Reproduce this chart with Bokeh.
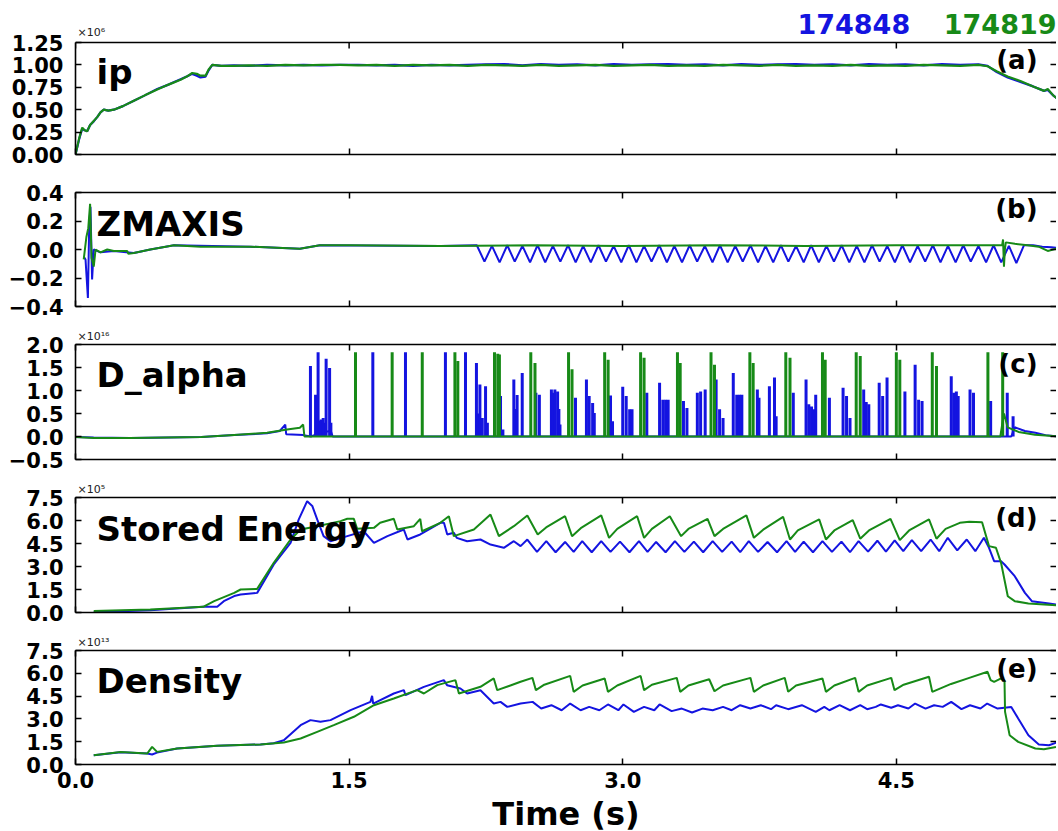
from bokeh.plotting import figure
from bokeh.layouts import column
from bokeh.models import (Range1d, LinearAxis, FixedTicker, CustomJSTickFormatter,
                          Label, Span, ColumnDataSource)
from bokeh.embed import file_html
from bokeh.resources import INLINE

# ---------------- data (time in s, values in the axis multiplier units) ----------------
SHOTS = ["174848", "174819"]
X_TICKS = [0.0, 1.5, 3.0, 4.5]

ip_t = [0.0, 0.02, 0.037, 0.05, 0.064, 0.08, 0.10, 0.12, 0.137, 0.155,
        0.18, 0.21, 0.26, 0.32, 0.38, 0.448, 0.51, 0.576, 0.61, 0.64,
        0.665, 0.685, 0.713, 0.73, 0.75, 0.80, 0.868, 0.95, 1.05, 1.15,
        1.25, 1.35, 1.45, 1.55, 1.65, 1.75, 1.85, 1.95, 2.05, 2.15,
        2.25, 2.35, 2.45, 2.55, 2.65, 2.75, 2.85, 2.95, 3.05, 3.15,
        3.25, 3.35, 3.45, 3.55, 3.65, 3.75, 3.85, 3.95, 4.05, 4.15,
        4.25, 4.35, 4.45, 4.55, 4.65, 4.75, 4.85, 4.95, 5.00, 5.05,
        5.11, 5.18, 5.25, 5.31, 5.33, 5.36, 5.39]
ip_174848 = [0.0, 0.17, 0.29, 0.27, 0.26, 0.33, 0.37, 0.42, 0.47, 0.50,
             0.49, 0.50, 0.54, 0.60, 0.66, 0.73, 0.78, 0.84, 0.87, 0.90,
             0.88, 0.86, 0.87, 0.94, 1.0, 0.99, 0.995, 0.99, 1.0, 0.995,
             1.0, 0.995, 1.0, 1.0, 0.995, 1.0, 0.99, 1.0, 0.995, 1.0,
             1.005, 1.01, 0.995, 1.01, 1.0, 1.005, 0.995, 1.01, 1.0, 1.005,
             1.01, 1.0, 1.005, 0.995, 1.01, 1.0, 1.005, 1.01, 1.0, 1.005,
             0.995, 1.01, 1.0, 1.005, 0.995, 1.01, 1.0, 1.005, 0.99, 0.92,
             0.86, 0.81, 0.76, 0.71, 0.72, 0.66, 0.61]
ip_174819 = [0.0, 0.18, 0.30, 0.27, 0.26, 0.33, 0.375, 0.42, 0.47, 0.50,
             0.49, 0.50, 0.54, 0.60, 0.66, 0.725, 0.78, 0.835, 0.87, 0.91,
             0.90, 0.88, 0.88, 0.95, 1.0, 0.99, 0.99, 0.995, 0.99, 1.0,
             0.995, 1.0, 1.0, 0.995, 1.0, 0.99, 1.0, 0.995, 1.0, 0.99,
             1.0, 0.995, 0.99, 1.0, 0.99, 0.995, 1.0, 0.99, 0.995, 1.0,
             0.99, 0.995, 0.99, 1.0, 0.995, 0.99, 1.0, 0.99, 0.995, 0.99,
             1.0, 0.99, 0.995, 0.99, 1.0, 0.995, 0.99, 1.0, 0.985, 0.93,
             0.87, 0.82, 0.76, 0.71, 0.73, 0.66, 0.61]

zmaxis_174819 = [(0.045, -0.07), (0.06, 0.09), (0.07, 0.15), (0.08, 0.32), (0.088, -0.06),
                 (0.10, -0.12), (0.11, 0.0), (0.137, -0.02), (0.174, 0.0), (0.21, -0.01),
                 (0.283, -0.01), (0.29, -0.03), (0.32, -0.025), (0.41, 0.0), (0.54, 0.03),
                 (0.685, 0.02), (0.96, 0.02), (1.23, 0.005), (1.34, 0.03), (1.5, 0.03),
                 (2.0, 0.025), (2.5, 0.03), (3.0, 0.025), (3.5, 0.03), (4.0, 0.025),
                 (4.5, 0.03), (5.0, 0.03), (5.08, 0.03), (5.085, 0.07), (5.09, -0.12),
                 (5.095, 0.0), (5.10, 0.05), (5.15, 0.04), (5.22, 0.03), (5.28, 0.02),
                 (5.33, -0.01), (5.36, 0.0), (5.39, 0.01)]
zmaxis_174848 = [(0.045, -0.05), (0.055, -0.07), (0.068, -0.34), (0.075, 0.16), (0.082, 0.30),
                 (0.091, -0.21), (0.10, 0.0), (0.137, -0.02), (0.21, -0.01), (0.32, -0.025),
                 (0.41, 0.0), (0.54, 0.03), (0.96, 0.02), (1.23, 0.005), (1.34, 0.03),
                 (2.0, 0.025),
                 (2.200, 0.03), (2.242, -0.085), (2.283, 0.025), (2.325, -0.09), (2.367, 0.03),
                 (2.408, -0.085), (2.450, 0.025), (2.492, -0.09), (2.533, 0.03), (2.575, -0.09),
                 (2.617, 0.025), (2.658, -0.085), (2.700, 0.03), (2.742, -0.09), (2.783, 0.025),
                 (2.825, -0.09), (2.867, 0.03), (2.908, -0.085), (2.950, 0.025), (2.992, -0.09),
                 (3.033, 0.03), (3.075, -0.09), (3.117, 0.025), (3.158, -0.085), (3.200, 0.03),
                 (3.242, -0.09), (3.283, 0.025), (3.325, -0.09), (3.367, 0.03), (3.408, -0.085),
                 (3.450, 0.025), (3.492, -0.09), (3.533, 0.03), (3.575, -0.09), (3.617, 0.025),
                 (3.658, -0.085), (3.700, 0.03), (3.742, -0.09), (3.783, 0.025), (3.825, -0.09),
                 (3.867, 0.03), (3.908, -0.085), (3.950, 0.025), (3.992, -0.09), (4.033, 0.03),
                 (4.075, -0.09), (4.117, 0.025), (4.158, -0.085), (4.200, 0.03), (4.242, -0.09),
                 (4.283, 0.025), (4.325, -0.09), (4.367, 0.03), (4.408, -0.085), (4.450, 0.025),
                 (4.492, -0.09), (4.533, 0.03), (4.575, -0.09), (4.617, 0.025), (4.658, -0.085),
                 (4.700, 0.03), (4.742, -0.09), (4.783, 0.025), (4.825, -0.09), (4.867, 0.03),
                 (4.908, -0.085), (4.950, 0.025), (4.992, -0.09), (5.033, 0.03), (5.075, -0.09),
                 (5.117, 0.025), (5.158, -0.095), (5.200, 0.03), (5.25, 0.03), (5.30, 0.02),
                 (5.35, 0.015), (5.39, 0.01)]

dalpha_base_174848 = [(0.0, -0.01), (0.1, -0.02), (0.3, -0.03), (0.5, -0.02), (0.69, -0.01),
                      (0.87, 0.03), (1.05, 0.07), (1.12, 0.12), (1.15, 0.26), (1.155, 0.05),
                      (1.25, 0.03), (1.29, 0.0), (1.36, 0.1), (1.40, 0.12), (1.41, 0.0),
                      (5.13, 0.0), (5.149, 0.2), (5.205, 0.12), (5.262, 0.08), (5.318, 0.03),
                      (5.39, 0.0)]
dalpha_base_174819 = [(0.0, -0.01), (0.1, -0.03), (0.3, -0.03), (0.5, -0.02), (0.69, -0.01),
                      (0.87, 0.035), (1.05, 0.08), (1.16, 0.15), (1.23, 0.19), (1.248, 0.26),
                      (1.255, 0.0), (5.07, 0.0), (5.09, 0.5), (5.11, 0.2), (5.17, 0.1),
                      (5.26, 0.04), (5.39, 0.0)]
dalpha_peaks_174848 = [(1.288, 1.53), (1.316, 0.91), (1.330, 1.83), (1.340, 0.35), (1.347, 0.37),
                       (1.358, 0.40), (1.365, 0.30), (1.374, 1.69), (1.393, 1.49), (1.400, 0.3),
                       (1.630, 1.83), (1.809, 1.83), (2.028, 1.83), (2.138, 1.83), (2.198, 1.60),
                       (2.207, 0.5), (2.217, 1.13), (2.230, 0.4), (2.248, 1.09), (2.258, 0.3),
                       (2.330, 0.88), (2.343, 0.15), (2.403, 1.24), (2.412, 0.6), (2.421, 0.9),
                       (2.449, 1.38), (2.524, 0.95), (2.543, 0.91), (2.609, 1.02), (2.618, 0.95),
                       (2.628, 1.02), (2.643, 0.98), (2.650, 0.6), (2.656, 0.26), (2.741, 0.84),
                       (2.801, 1.24), (2.816, 0.88), (2.835, 0.73), (2.844, 0.51), (2.933, 0.89),
                       (2.944, 0.33), (3.000, 1.08), (3.019, 0.88), (3.038, 0.59), (3.051, 0.59),
                       (3.132, 0.95), (3.202, 1.17), (3.220, 0.80), (3.235, 0.80), (3.249, 0.80),
                       (3.333, 0.77), (3.352, 0.62), (3.409, 0.95), (3.427, 0.98), (3.452, 1.02),
                       (3.512, 1.24), (3.531, 0.59), (3.550, 0.40), (3.606, 1.38), (3.625, 0.91),
                       (3.640, 0.91), (3.653, 0.91), (3.738, 1.02), (3.747, 0.84), (3.804, 1.09),
                       (3.832, 1.28), (3.841, 0.44), (3.935, 0.95), (4.005, 1.24), (4.020, 0.70),
                       (4.035, 0.65), (4.048, 0.59), (4.058, 0.91), (4.133, 0.84), (4.208, 1.06),
                       (4.227, 0.88), (4.246, 0.40), (4.321, 1.02), (4.335, 0.75), (4.349, 0.70),
                       (4.406, 1.17), (4.425, 0.88), (4.449, 1.28), (4.547, 0.98), (4.603, 1.56),
                       (4.622, 0.80), (4.641, 0.77), (4.801, 1.31), (4.815, 0.95), (4.829, 0.98),
                       (4.839, 0.88), (4.904, 1.02), (4.923, 0.95), (5.017, 0.77), (5.108, 0.95),
                       (5.140, 0.44)]
dalpha_peaks_174819 = [(1.535, 1.83), (1.736, 1.83), (1.901, 1.83), (2.080, 1.83), (2.096, 1.64),
                       (2.297, 1.83), (2.315, 1.80), (2.324, 1.78), (2.496, 1.83), (2.519, 1.60),
                       (2.703, 1.83), (2.722, 1.46), (2.901, 1.83), (2.920, 1.67), (3.098, 1.83),
                       (3.117, 1.71), (3.300, 1.83), (3.315, 1.60), (3.484, 1.83), (3.503, 1.56),
                       (3.697, 1.83), (3.715, 1.60), (3.894, 1.83), (3.917, 1.71), (4.095, 1.83),
                       (4.110, 1.67), (4.280, 1.83), (4.302, 1.75), (4.500, 1.83), (4.519, 1.67),
                       (4.697, 1.83), (4.720, 1.53), (5.002, 1.83), (5.083, 1.83)]

wmhd_174848 = [(0.10, 0.02), (0.41, 0.15), (0.70, 0.37), (0.777, 0.37), (0.813, 0.74),
               (0.87, 1.07), (0.905, 1.17), (0.996, 1.28), (1.087, 3.13), (1.179, 4.54),
               (1.224, 6.07), (1.270, 7.26), (1.298, 6.95), (1.325, 6.07), (1.36, 4.98),
               (1.398, 4.65), (1.49, 4.98), (1.58, 5.30), (1.636, 4.54), (1.71, 4.98),
               (1.80, 5.41), (1.82, 4.76), (1.89, 5.09), (2.0, 5.85), (2.02, 5.85),
               (2.038, 5.09), (2.074, 5.20), (2.09, 4.87), (2.147, 4.65), (2.22, 4.76),
               (2.275, 4.43), (2.348, 4.22), (2.403, 4.65), (2.44, 4.33), (2.477, 4.76),
               (2.53, 3.95), (2.581, 4.65), (2.632, 3.93), (2.684, 4.60), (2.731, 3.95),
               (2.778, 4.65), (2.830, 3.93), (2.882, 4.65), (2.933, 3.95), (2.985, 4.62),
               (3.037, 3.93), (3.089, 4.65), (3.136, 3.95), (3.183, 4.60), (3.235, 3.93),
               (3.286, 4.65), (3.338, 3.95), (3.390, 4.62), (3.441, 3.93), (3.493, 4.65),
               (3.545, 3.95), (3.597, 4.62), (3.644, 3.93), (3.691, 4.65), (3.742, 3.95),
               (3.794, 4.60), (3.846, 3.93), (3.898, 4.65), (3.945, 3.95), (3.992, 4.62),
               (4.043, 3.93), (4.095, 4.65), (4.147, 3.95), (4.199, 4.62), (4.246, 3.93),
               (4.293, 4.65), (4.345, 3.97), (4.396, 4.68), (4.443, 3.97), (4.491, 4.70),
               (4.538, 4.0), (4.585, 4.72), (4.636, 4.0), (4.688, 4.76), (4.735, 4.0),
               (4.782, 4.87), (4.834, 4.05), (4.886, 4.76), (4.933, 4.0), (4.980, 4.87),
               (5.008, 4.22), (5.036, 3.35), (5.074, 3.35), (5.093, 3.13), (5.149, 2.37),
               (5.205, 1.28), (5.243, 0.74), (5.337, 0.59), (5.39, 0.50)]
wmhd_174819 = [(0.10, 0.09), (0.41, 0.20), (0.70, 0.37), (0.76, 0.74), (0.87, 1.28),
               (0.905, 1.50), (0.996, 1.54), (1.087, 3.24), (1.179, 4.76), (1.234, 5.41),
               (1.325, 5.63), (1.453, 5.96), (1.49, 6.11), (1.526, 6.11), (1.544, 5.46),
               (1.636, 5.52), (1.67, 5.85), (1.745, 6.11), (1.764, 5.41), (1.855, 5.63),
               (1.89, 6.11), (1.90, 5.30), (2.0, 5.85), (2.047, 6.28), (2.074, 4.98),
               (2.184, 5.41), (2.275, 6.39), (2.321, 4.98), (2.403, 5.63), (2.477, 6.33),
               (2.534, 5.09), (2.58, 5.55), (2.684, 6.28), (2.722, 4.98), (2.77, 5.5),
               (2.882, 6.33), (2.925, 4.87), (2.97, 5.45), (3.079, 6.28), (3.117, 4.87),
               (3.16, 5.45), (3.258, 6.28), (3.320, 4.98), (3.36, 5.45), (3.465, 6.11),
               (3.503, 4.98), (3.55, 5.45), (3.678, 6.33), (3.719, 4.87), (3.77, 5.4),
               (3.879, 6.24), (3.917, 4.76), (3.96, 5.35), (4.077, 6.07), (4.114, 4.76),
               (4.16, 5.35), (4.261, 6.02), (4.302, 4.81), (4.35, 5.35), (4.468, 6.11),
               (4.519, 4.72), (4.57, 5.35), (4.679, 6.07), (4.720, 4.81), (4.77, 5.45),
               (4.848, 5.85), (4.90, 5.92), (4.970, 5.89), (5.008, 4.33), (5.046, 4.22),
               (5.074, 3.24), (5.111, 1.06), (5.149, 0.74), (5.224, 0.59), (5.39, 0.46)]

dens_174848 = [(0.10, 0.61), (0.247, 0.80), (0.393, 0.72), (0.42, 0.66), (0.447, 0.78),
               (0.557, 1.05), (0.777, 1.23), (1.014, 1.32), (1.087, 1.40), (1.142, 1.60),
               (1.234, 2.59), (1.288, 2.92), (1.343, 2.81), (1.398, 2.92), (1.508, 3.58),
               (1.617, 4.12), (1.626, 4.52), (1.632, 4.01), (1.745, 4.67), (1.80, 4.89),
               (1.809, 4.56), (1.91, 5.11), (2.019, 5.55), (2.037, 5.22), (2.11, 5.0),
               (2.147, 4.67), (2.22, 4.89), (2.293, 4.01), (2.33, 4.12), (2.367, 3.79),
               (2.44, 4.01), (2.506, 4.12), (2.553, 3.68), (2.609, 3.90), (2.665, 3.57),
               (2.712, 4.01), (2.769, 3.57), (2.816, 3.79), (2.872, 3.57), (2.919, 3.95),
               (2.976, 3.57), (3.004, 3.95), (3.061, 3.46), (3.117, 3.79), (3.173, 3.57),
               (3.202, 3.95), (3.268, 3.51), (3.324, 3.68), (3.380, 3.42), (3.437, 3.68),
               (3.493, 3.57), (3.550, 3.79), (3.597, 3.57), (3.644, 3.90), (3.700, 3.68),
               (3.757, 3.90), (3.813, 3.64), (3.841, 3.90), (3.907, 3.64), (3.982, 3.90),
               (4.058, 3.46), (4.105, 3.79), (4.133, 3.57), (4.189, 3.90), (4.246, 3.57),
               (4.302, 3.90), (4.340, 3.64), (4.387, 3.79), (4.415, 3.95), (4.472, 3.73),
               (4.509, 3.90), (4.566, 3.68), (4.603, 4.01), (4.660, 3.68), (4.707, 3.90),
               (4.754, 3.79), (4.801, 4.12), (4.857, 3.64), (4.904, 3.90), (4.961, 3.68),
               (4.998, 4.01), (5.055, 3.68), (5.130, 3.79), (5.168, 3.03), (5.224, 1.93),
               (5.281, 1.32), (5.337, 1.27), (5.39, 1.49)]
dens_174819 = [(0.10, 0.61), (0.247, 0.83), (0.393, 0.72), (0.42, 1.16), (0.447, 0.83),
               (0.557, 1.05), (0.777, 1.23), (1.014, 1.32), (1.142, 1.45), (1.234, 1.71),
               (1.325, 2.15), (1.416, 2.59), (1.526, 3.14), (1.636, 3.90), (1.745, 4.34),
               (1.873, 4.89), (1.91, 4.67), (1.983, 5.22), (2.083, 5.55), (2.102, 4.67),
               (2.22, 5.11), (2.293, 5.66), (2.312, 4.89), (2.44, 5.44), (2.505, 5.70),
               (2.524, 4.89), (2.57, 5.25), (2.712, 5.83), (2.731, 4.78), (2.78, 5.2),
               (2.901, 5.66), (2.919, 4.78), (2.97, 5.2), (3.098, 5.83), (3.117, 4.89),
               (3.16, 5.25), (3.296, 5.70), (3.315, 4.78), (3.36, 5.2), (3.474, 5.61),
               (3.503, 4.82), (3.55, 5.2), (3.700, 5.70), (3.719, 4.78), (3.77, 5.2),
               (3.888, 5.70), (3.907, 4.78), (3.95, 5.2), (4.095, 5.66), (4.114, 4.78),
               (4.16, 5.2), (4.274, 5.70), (4.293, 4.78), (4.34, 5.2), (4.472, 5.70),
               (4.490, 4.89), (4.54, 5.25), (4.679, 5.77), (4.697, 4.78), (4.80, 5.3),
               (4.90, 5.7), (5.0, 6.10), (5.017, 5.55), (5.036, 5.44), (5.074, 5.66),
               (5.093, 5.5), (5.096, 3.46), (5.121, 1.93), (5.168, 1.49), (5.262, 1.05),
               (5.309, 1.01), (5.375, 1.16)]

# ---------------- styling ----------------
BLUE = "#1414e0"
GREEN = "#178a17"
FONT = "DejaVu Sans"
X_END = 5.378
FRAME_W = 981
LEFT = 75
TICK = 6


def xy(pairs):
    return [a for a, _ in pairs], [b for _, b in pairs]


def fmt(decimals):
    return CustomJSTickFormatter(
        code="return tick.toFixed(%d).replace('-', '\u2212');" % decimals)


def style_axis(ax, labels):
    ax.major_tick_in = TICK
    ax.major_tick_out = 0
    ax.major_tick_line_width = 1.5
    ax.major_tick_line_color = "black"
    ax.minor_tick_line_color = None
    ax.axis_line_width = 1.6
    ax.axis_line_color = "black"
    if labels:
        ax.major_label_text_font = FONT
        ax.major_label_text_font_style = "bold"
        ax.major_label_text_font_size = "21px"
        ax.major_label_text_color = "black"
    else:
        ax.major_label_text_font_size = "1px"
        ax.major_label_text_color = None
        ax.major_label_standoff = 0


def panel(ylo, yhi, yticks, dec, frame_h, top, bottom, last=False, mult=None, header=0):
    ytop = yhi + (yhi - ylo) * header / frame_h
    p = figure(frame_width=FRAME_W, frame_height=frame_h + header,
               x_range=Range1d(0, X_END), y_range=Range1d(ylo, ytop),
               output_backend="svg", toolbar_location=None,
               min_border_left=LEFT, min_border_right=0,
               min_border_top=0 if header else top, min_border_bottom=bottom,
               background_fill_color="white", border_fill_color="white")
    p.outline_line_color = None
    p.xgrid.visible = False
    p.ygrid.visible = False
    if mult:
        p.title.text = mult
        p.title.align = "left"
        p.title.offset = 2
        p.title.standoff = 3
        p.title.text_font = FONT
        p.title.text_font_size = "11px"
        p.title.text_font_style = "normal"
        p.title.text_color = "#222222"
    ya = p.yaxis[0]
    ya.ticker = FixedTicker(ticks=yticks)
    ya.formatter = fmt(dec)
    ya.bounds = (ylo, yhi)
    style_axis(ya, True)
    ya.major_label_standoff = 12
    xa = p.xaxis[0]
    xa.ticker = FixedTicker(ticks=X_TICKS)
    if last:
        style_axis(xa, True)
        xa.formatter = fmt(1)
        xa.major_label_standoff = 7
        xa.axis_label = "Time (s)"
        xa.axis_label_text_font = FONT
        xa.axis_label_text_font_style = "bold"
        xa.axis_label_text_font_size = "32px"
        xa.axis_label_text_color = "black"
        xa.axis_label_standoff = 4
    else:
        style_axis(xa, False)
    if header:
        # top spine and inward top ticks drawn inside the taller frame
        p.add_layout(Span(location=yhi, dimension="width", line_color="black",
                          line_width=1.6))
        dy = (yhi - ylo) * TICK / frame_h
        p.segment(x0=X_TICKS, y0=[yhi] * len(X_TICKS), x1=X_TICKS,
                  y1=[yhi - dy] * len(X_TICKS), line_color="black", line_width=1.5)
    else:
        ta = LinearAxis(ticker=FixedTicker(ticks=X_TICKS))
        style_axis(ta, False)
        p.add_layout(ta, "above")
    ra = LinearAxis(ticker=FixedTicker(ticks=yticks), bounds=(ylo, yhi))
    style_axis(ra, False)
    ra.axis_line_color = None
    p.add_layout(ra, "right")
    return p


def label(p, x, y, text, size, color="black", align="left", yoff=0, bold=True):
    p.add_layout(Label(x=x, y=y, text=text, text_font=FONT, text_font_size=size,
                       text_font_style="bold" if bold else "normal", text_color=color,
                       text_align=align, text_baseline="alphabetic", y_offset=yoff))


def panel_texts(p, name, name_y, letter, letter_y):
    label(p, 0.115, name_y, name, "34px", yoff=11)
    label(p, 5.274, letter_y, letter, "26px", align="right", yoff=8)


# (a) plasma current, with a 42 px header band for the shot numbers
fa = panel(0, 1.25, [0, 0.25, 0.5, 0.75, 1.0, 1.25], 2, 112, 0, 19, header=42)
fa.line(ip_t, ip_174848, color=BLUE, line_width=2.2)
fa.line(ip_t, ip_174819, color=GREEN, line_width=2.2)
panel_texts(fa, "ip", 0.80, "(a)", 0.96)
PX_A = 1.25 / 112  # data units per pixel in panel (a)
label(fa, 3.958, 1.25 + 10 * PX_A, SHOTS[0], "27px", color=BLUE, yoff=9)
label(fa, 4.760, 1.25 + 10 * PX_A, SHOTS[1], "27px", color=GREEN, yoff=9)
label(fa, 0.011, 1.25 + 7 * PX_A, "\u00d710\u2076", "11px", color="#222222", yoff=3.5,
      bold=False)

# (b) ZMAXIS
fb = panel(-0.4, 0.4, [-0.4, -0.2, 0.0, 0.2, 0.4], 1, 114, 19, 19)
t, v = xy(zmaxis_174848)
fb.line(t, v, color=BLUE, line_width=2)
t, v = xy(zmaxis_174819)
fb.line(t, v, color=GREEN, line_width=2)
panel_texts(fb, "ZMAXIS", 0.105, "(b)", 0.225)

# (c) D_alpha
fc = panel(-0.5, 2.0, [-0.5, 0.0, 0.5, 1.0, 1.5, 2.0], 1, 115, 19, 19,
           mult="\u00d710\u00b9\u2076")
t, v = xy(dalpha_base_174848)
fc.line(t, v, color=BLUE, line_width=2)
t, v = xy(dalpha_peaks_174848)
fc.segment(x0="t", y0=0, x1="t", y1="h", color=BLUE, line_width=3,
           source=ColumnDataSource(dict(t=t, h=v)))
t, v = xy(dalpha_base_174819)
fc.line(t, v, color=GREEN, line_width=2)
t, v = xy(dalpha_peaks_174819)
fc.segment(x0="t", y0=0, x1="t", y1="h", color=GREEN, line_width=3,
           source=ColumnDataSource(dict(t=t, h=v)))
panel_texts(fc, "D_alpha", 1.09, "(c)", 1.40)

# (d) stored energy
fd = panel(0, 7.5, [0, 1.5, 3.0, 4.5, 6.0, 7.5], 1, 115, 19, 19, mult="\u00d710\u2075")
t, v = xy(wmhd_174848)
fd.line(t, v, color=BLUE, line_width=2)
t, v = xy(wmhd_174819)
fd.line(t, v, color=GREEN, line_width=2)
panel_texts(fd, "Stored Energy", 4.72, "(d)", 5.63)

# (e) density
fe = panel(0, 7.5, [0, 1.5, 3.0, 4.5, 6.0, 7.5], 1, 114, 19, 64, last=True,
           mult="\u00d710\u00b9\u00b3")
t, v = xy(dens_174848)
fe.line(t, v, color=BLUE, line_width=2)
t, v = xy(dens_174819)
fe.line(t, v, color=GREEN, line_width=2)
panel_texts(fe, "Density", 4.74, "(e)", 5.77)

layout = column(fa, fb, fc, fd, fe, spacing=0)
with open("out.html", "w", encoding="utf-8") as f:
    f.write(file_html(layout, INLINE))
